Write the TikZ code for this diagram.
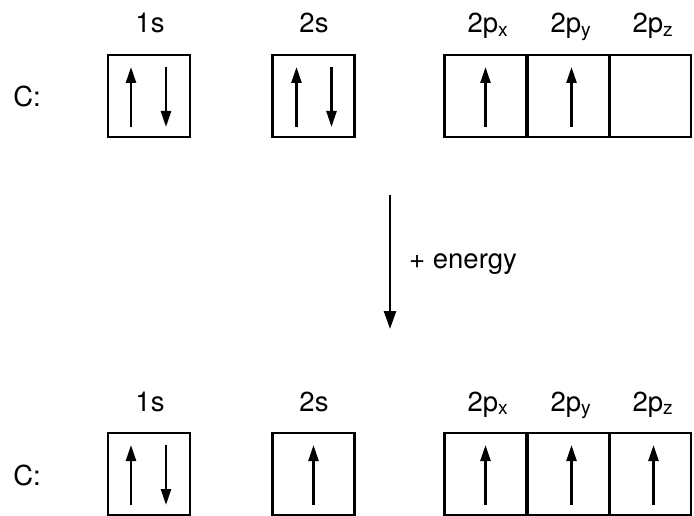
\documentclass[tikz,border=0pt]{standalone}
\usepackage{fontspec}
\setmainfont{TeX Gyre Heros}
\usetikzlibrary{arrows.meta,calc}
\tikzset{
  orb/.style={draw, line width=2.3pt, minimum width=82pt, minimum height=82pt, inner sep=0pt, outer sep=0pt},
  lbl/.style={anchor=base, inner sep=0pt, font=\fontsize{27.5}{32}\selectfont},
  spin/.style={line width=2.4pt, -{Triangle[length=16pt,width=10pt]}},
  bigarrow/.style={line width=2.6pt, -{Triangle[length=18pt,width=12pt]}}
}
\begin{document}
\begin{tikzpicture}[x=1pt,y=-1pt]
\useasboundingbox (0,0) rectangle (694,516);
% ---------- top row ----------
\node[lbl] (c1) at (27,107) {C:};
\node[orb] (t1s) at (149,96) {};
\node[orb] (t2s) at (313.5,96) {};
\node[orb] (tpx) at (485.5,96) {};
\node[orb] (tpy) at (568.5,96) {};
\node[orb, minimum width=81pt] (tpz) at (650.5,96) {};
\node[lbl] (lt1s) at (150,33) {1s};
\node[lbl] (lt2s) at (314,33) {2s};
\node[lbl] (ltpx) at (488,33) {2p\textsubscript{x}};
\node[lbl] (ltpy) at (571,33) {2p\textsubscript{y}};
\node[lbl] (ltpz) at (653,33) {2p\textsubscript{z}};
\draw[spin] ($(t1s.center)+(-18,31)$) -- ($(t1s.center)+(-18,-29)$);
\draw[spin] ($(t1s.center)+(17,-29)$) -- ($(t1s.center)+(17,31)$);
\draw[spin] ($(t2s.center)+(-17,31)$) -- ($(t2s.center)+(-17,-29)$);
\draw[spin] ($(t2s.center)+(18,-29)$) -- ($(t2s.center)+(18,31)$);
\draw[spin] ($(tpx.center)+(0,31)$) -- ($(tpx.center)+(0,-29)$);
\draw[spin] ($(tpy.center)+(3,31)$) -- ($(tpy.center)+(3,-29)$);
% ---------- energy arrow ----------
\coordinate (ea) at (390,195);
\coordinate (eb) at (390,329);
\draw[bigarrow] (ea) -- (eb);
\node[lbl, anchor=base west] (en) at (409,268) {+ energy};
% ---------- bottom row ----------
\node[lbl] (c2) at (27,485) {C:};
\node[orb] (b1s) at (149,474) {};
\node[orb] (b2s) at (313.5,474) {};
\node[orb] (bpx) at (485.5,474) {};
\node[orb] (bpy) at (568.5,474) {};
\node[orb, minimum width=81pt] (bpz) at (650.5,474) {};
\node[lbl] (lb1s) at (150,411) {1s};
\node[lbl] (lb2s) at (314,411) {2s};
\node[lbl] (lbpx) at (488,411) {2p\textsubscript{x}};
\node[lbl] (lbpy) at (571,411) {2p\textsubscript{y}};
\node[lbl] (lbpz) at (653,411) {2p\textsubscript{z}};
\draw[spin] ($(b1s.center)+(-18,31)$) -- ($(b1s.center)+(-18,-29)$);
\draw[spin] ($(b1s.center)+(17,-29)$) -- ($(b1s.center)+(17,31)$);
\draw[spin] ($(b2s.center)+(0,31)$) -- ($(b2s.center)+(0,-29)$);
\draw[spin] ($(bpx.center)+(0,31)$) -- ($(bpx.center)+(0,-29)$);
\draw[spin] ($(bpy.center)+(3,31)$) -- ($(bpy.center)+(3,-29)$);
\draw[spin] ($(bpz.center)+(3,31)$) -- ($(bpz.center)+(3,-29)$);
\end{tikzpicture}
\end{document}
